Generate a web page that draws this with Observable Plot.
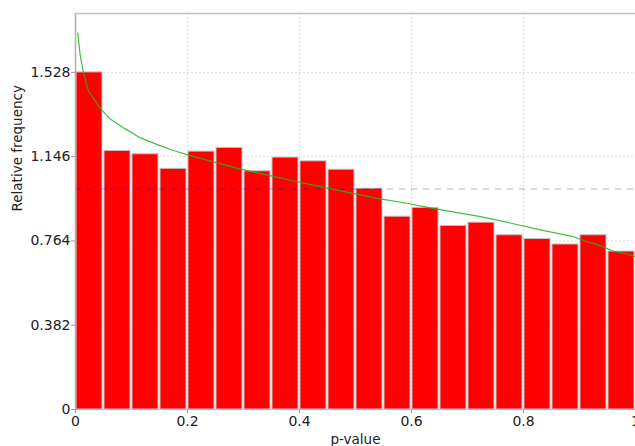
<!DOCTYPE html>
<html>
<head>
<meta charset="utf-8">
<script src="https://cdn.jsdelivr.net/npm/d3@7"></script>
<script src="https://cdn.jsdelivr.net/npm/@observablehq/plot@0.6"></script>
<style>
  html, body { margin: 0; padding: 0; background: white; }
</style>
</head>
<body>
<div id="chart"></div>
<script>
// Histogram bins (p-value), lower and upper edges
const binLo = [0.00,0.05,0.10,0.15,0.20,0.25,0.30,0.35,0.40,0.45,0.50,0.55,0.60,0.65,0.70,0.75,0.80,0.85,0.90,0.95];
const binHi = [0.05,0.10,0.15,0.20,0.25,0.30,0.35,0.40,0.45,0.50,0.55,0.60,0.65,0.70,0.75,0.80,0.85,0.90,0.95,1.00];
// Relative frequency per bin
const freq = [1.528,1.172,1.157,1.091,1.169,1.186,1.080,1.142,1.125,1.087,1.001,0.874,0.914,0.832,0.847,0.790,0.773,0.748,0.790,0.716];
// Fitted density curve (green)
const curveX = [0.004,0.008,0.014,0.023,0.044,0.062,0.089,0.116,0.151,0.175,0.205,0.253,0.293,0.347,0.400,0.437,0.491,0.544,0.592,0.633,0.669,0.723,0.770,0.830,0.889,0.907,0.937,0.961,0.985,1.000];
const curveY = [1.707,1.613,1.528,1.445,1.365,1.317,1.272,1.231,1.196,1.174,1.151,1.118,1.091,1.060,1.030,1.010,0.982,0.955,0.935,0.914,0.898,0.874,0.849,0.814,0.784,0.766,0.743,0.717,0.705,0.692];
// Uniform reference level
const refLevel = [1.0];
// Axis ticks
const xTicks = [0, 0.2, 0.4, 0.6, 0.8, 1];
const xTickLabels = ["0", "0.2", "0.4", "0.6", "0.8", "1"];
const yTicks = [0, 0.382, 0.764, 1.146, 1.528];
const yTickLabels = ["0", "0.382", "0.764", "1.146", "1.528"];
const yMax = 1.795;
const xLabel = "p-value";
const yLabel = "Relative frequency";

const bars = binLo.map((lo, i) => ({lo, hi: binHi[i], f: freq[i]}));
const curve = curveX.map((x, i) => ({x, y: curveY[i]}));

const chart = Plot.plot({
  width: 635,
  height: 446,
  marginLeft: 75,
  marginRight: 0,
  marginTop: 13,
  marginBottom: 37,
  style: {fontFamily: "DejaVu Sans", fontSize: "14px", background: "white", color: "#222"},
  x: {domain: [0, 1], label: null},
  y: {domain: [0, yMax], label: null},
  marks: [
    Plot.gridX(xTicks.slice(1), {stroke: "#dcdcdc", strokeOpacity: 1, strokeDasharray: "2,2"}),
    Plot.gridY(yTicks.slice(1), {stroke: "#dcdcdc", strokeOpacity: 1, strokeDasharray: "2,2"}),
    Plot.rectY(bars, {x1: "lo", x2: "hi", y: "f", fill: "#ff0000", stroke: "#c4c4c4", strokeWidth: 1, insetLeft: 1, insetRight: 1}),
    Plot.ruleY(refLevel, {stroke: "#0000ff", strokeOpacity: 0.22, strokeWidth: 1.5, strokeDasharray: "6,6"}),
    Plot.line(curve, {x: "x", y: "y", stroke: "#1fb51f", strokeWidth: 1.2, strokeOpacity: 0.85, curve: "linear"}),
    Plot.ruleX([0], {stroke: "#b0b0b0", strokeWidth: 1.5}),
    Plot.ruleY([yMax], {stroke: "#c0c0c0", strokeWidth: 1.5}),
    Plot.ruleY([0], {stroke: "#b8b8b8", strokeWidth: 1}),
    Plot.axisX({ticks: xTicks, tickFormat: (d) => xTickLabels[xTicks.indexOf(d)], tickSize: 4, tickPadding: 3, stroke: "#999", fill: "#222", label: null}),
    Plot.axisY({ticks: yTicks, tickFormat: (d) => yTickLabels[yTicks.indexOf(d)], tickSize: 4, tickPadding: 1, stroke: "#999", fill: "#222", label: null}),
    Plot.text([xLabel], {frameAnchor: "bottom", dy: 30, lineAnchor: "middle", fontSize: 13.5, fill: "#222"}),
    Plot.text([yLabel], {frameAnchor: "left", dx: -58, rotate: -90, lineAnchor: "middle", fontSize: 13.5, fill: "#222"})
  ]
});
document.getElementById("chart").appendChild(chart);
</script>
</body>
</html>
